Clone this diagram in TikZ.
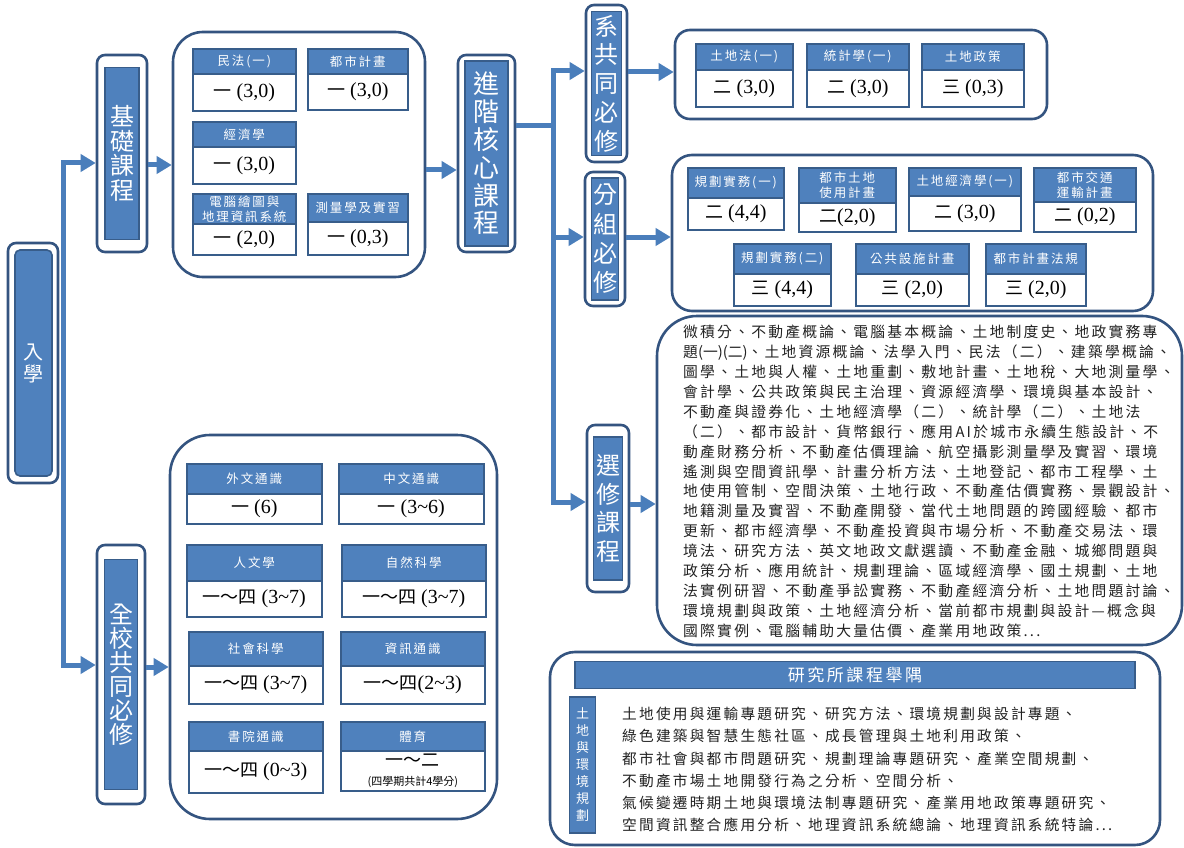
\documentclass[tikz,border=0pt]{standalone}
\usepackage{fontspec}
\setmainfont{Liberation Serif}
\newfontfamily\cjk{Noto Sans CJK TC}
\newfontfamily\cjkls[LetterSpace=15]{Noto Sans CJK TC}
\usetikzlibrary{arrows.meta}
\definecolor{blu}{RGB}{79,129,189}
\definecolor{bdr}{RGB}{56,93,138}
\definecolor{obd}{RGB}{52,84,128}
\definecolor{lnk}{RGB}{74,126,187}
\definecolor{txt}{RGB}{34,34,34}
\newcommand\cjn[1]{{\cjk\fontsize{18}{20}\selectfont #1}}
\newcommand\mycard[8]{%
  \node[hdr, anchor=north west, minimum width={(#3-#2)*1pt}, minimum height={(#5-#4)*1pt}] (#1h) at (#2,#4) {#7};
  \node[bdy, anchor=north west, minimum width={(#3-#2)*1pt}, minimum height={(#6-#5)*1pt}] (#1b) at (#2,#5) {#8};
}
\newcommand\dblbox[9]{%
  \node[outerbox, minimum width=#4pt, minimum height=#5pt] (#1O) at (#2,#3) {};
  \node[innerbar, minimum width=#6pt, minimum height=#7pt, font=#8] (#1I) at (#2,#3) {#9};
}
\begin{document}
\begin{tikzpicture}[x=1pt,y=-1pt,
  outerbox/.style={draw=obd, line width=2.6pt, rounded corners=8pt, fill=white, inner sep=0pt},
  innerbar/.style={draw=bdr, line width=1.6pt, fill=blu, text=white, inner sep=0pt, align=center},
  bigbox/.style={draw=obd, line width=2.6pt, fill=white, inner sep=0pt},
  hdr/.style={draw=bdr, line width=1.6pt, fill=blu, text=white, inner sep=0pt, align=center,
     font=\cjkls\fontsize{12.5}{15}\selectfont},
  bdy/.style={draw=bdr, line width=1.6pt, fill=white, text=black, inner sep=0pt, align=center,
     font=\fontsize{20}{22}\selectfont},
  conn/.style={draw=lnk, line width=5pt},
  arr/.style={conn, -{Triangle[length=15pt,width=17pt]}},
  para/.style={anchor=north west, inner sep=0pt, align=left, text=txt}
]
\fill[white] (0,0) rectangle (1184,848);
\useasboundingbox (0,0) rectangle (1184,848);

% level coordinates
\coordinate (spA) at (63,163);
\coordinate (spB) at (63,665);
\coordinate (L165) at (0,165);
\coordinate (L170) at (0,170);
\coordinate (tk) at (553,126);
\coordinate (L71) at (0,71);
\coordinate (L72) at (0,72);
\coordinate (L237) at (0,237);
\coordinate (L502) at (0,502);
\coordinate (L504) at (0,504);
\coordinate (L667) at (0,667);

% big boxes
\node[bigbox, rounded corners=30pt, minimum width=252pt, minimum height=245pt] (basic) at (299,154.5) {};
\node[bigbox, rounded corners=15pt, minimum width=372pt, minimum height=89pt] (xibox) at (861,74.5) {};
\node[bigbox, rounded corners=20pt, minimum width=481pt, minimum height=156pt] (fenbox) at (912.5,233) {};
\node[bigbox, rounded corners=40pt, minimum width=525pt, minimum height=329pt] (elect) at (919.5,480.5) {};
\node[bigbox, rounded corners=40pt, minimum width=327pt, minimum height=384pt] (genbox) at (333.5,627) {};
\node[bigbox, rounded corners=25pt, minimum width=610pt, minimum height=193pt] (research) at (855,748.5) {};

% double boxes (vertical titles)
\node[outerbox, minimum width=50pt, minimum height=240pt] (ruO) at (33,363) {};
\node[innerbar, rounded corners=5pt, minimum width=37pt, minimum height=226pt,
  font=\cjk\fontsize{20}{22}\selectfont] (ruI) at (33.5,363) {入\\學};
\dblbox{jc}{122}{153.5}{50}{197}{34}{172}{\cjk\fontsize{24}{24.5}\selectfont}{基\\礎\\課\\程}
\dblbox{jj}{486.5}{153.5}{57}{197}{43}{185}{\cjk\fontsize{26}{27.8}\selectfont}{進\\階\\核\\心\\課\\程}
\dblbox{xg}{606.5}{83.5}{41}{157}{30}{144}{\cjk\fontsize{24}{28.8}\selectfont}{系\\共\\同\\必\\修}
\dblbox{fz}{605}{239}{40}{134}{27}{122}{\cjk\fontsize{24}{29.3}\selectfont}{分\\組\\必\\修}
\dblbox{xx}{608}{508.5}{42}{167}{29}{143}{\cjk\fontsize{24}{28.7}\selectfont}{選\\修\\課\\程}
\dblbox{qx}{121}{674.5}{48}{259}{33}{230}{\cjk\fontsize{24}{24}\selectfont}{全\\校\\共\\同\\必\\修}

% basic course cards
\mycard{c1}{192}{295}{48}{73}{110}{民法(一)}{\cjn{一} (3,0)}
\mycard{c2}{307}{407}{48}{73}{109}{都市計畫}{\cjn{一} (3,0)}
\mycard{c3}{192}{295}{121}{146}{183}{經濟學}{\cjn{一} (3,0)}
\mycard{c4}{192}{295}{193}{223}{254}{電腦繪圖與\\地理資訊系統}{\cjn{一} (2,0)}
\mycard{c5}{307}{407}{193}{221}{254}{測量學及實習}{\cjn{一} (0,3)}

% department required
\mycard{d1}{695}{792}{43}{69}{106}{土地法(一)}{\cjn{二} (3,0)}
\mycard{d2}{806}{908}{43}{69}{106}{統計學(一)}{\cjn{二} (3,0)}
\mycard{d3}{921}{1023}{43}{69}{106}{土地政策}{\cjn{三} (0,3)}

% group required
\mycard{e1}{687}{783}{167}{197}{229}{規劃實務(一)}{\cjn{二} (4,4)}
\mycard{e2}{798}{895}{167}{202}{231}{都市土地\\使用計畫}{\cjn{二}(2,0)}
\mycard{e3}{908}{1020}{167}{195}{230}{土地經濟學(一)}{\cjn{二} (3,0)}
\mycard{e4}{1033}{1135}{167}{201}{231}{都市交通\\運輸計畫}{\cjn{二} (0,2)}
\mycard{e5}{733}{830}{243}{273}{305}{規劃實務(二)}{\cjn{三} (4,4)}
\mycard{e6}{855}{968}{243}{273}{305}{公共設施計畫}{\cjn{三} (2,0)}
\mycard{e7}{985}{1085}{243}{273}{305}{都市計畫法規}{\cjn{三} (2,0)}

% general education
\mycard{g1}{186}{321}{463}{493}{523}{外文通識}{\cjn{一} (6)}
\mycard{g2}{338}{483}{463}{493}{523}{中文通識}{\cjn{一} (3\textasciitilde6)}
\mycard{g3}{186}{321}{544}{580}{616}{人文學}{\cjn{一～四} (3\textasciitilde7)}
\mycard{g4}{341}{485}{544}{580}{616}{自然科學}{\cjn{一～四} (3\textasciitilde7)}
\mycard{g5}{188}{322}{631}{665}{703}{社會科學}{\cjn{一～四} (3\textasciitilde7)}
\mycard{g6}{340}{484}{631}{665}{703}{資訊通識}{\cjn{一～四}(2\textasciitilde3)}
\mycard{g7}{188}{322}{721}{750}{792}{書院通識}{\cjn{一～四} (0\textasciitilde3)}
\mycard{g8}{340}{484}{721}{750}{790}{體育}{\cjn{一～二}\\[-3pt]{\cjk\fontsize{11}{13}\selectfont (四學期共計4學分)}}

% elective text
\node[para, font=\cjkls\fontsize{14.8}{19.9}\selectfont] (eltext) at (683,325) {%
微積分、不動產概論、電腦基本概論、土地制度史、地政實務專\\
題{\cjk(一)(二)}、土地資源概論、法學入門、民法（二）、建築學概論、\\
圖學、土地與人權、土地重劃、敷地計畫、土地稅、大地測量學、\\
會計學、公共政策與民主治理、資源經濟學、環境與基本設計、\\
不動產與證券化、土地經濟學（二）、統計學（二）、土地法\\
（二）、都市設計、貨幣銀行、應用AI於城市永續生態設計、不\\
動產財務分析、不動產估價理論、航空攝影測量學及實習、環境\\
遙測與空間資訊學、計畫分析方法、土地登記、都市工程學、土\\
地使用管制、空間決策、土地行政、不動產估價實務、景觀設計、\\
地籍測量及實習、不動產開發、當代土地問題的跨國經驗、都市\\
更新、都市經濟學、不動產投資與市場分析、不動產交易法、環\\
境法、研究方法、英文地政文獻選讀、不動產金融、城鄉問題與\\
政策分析、應用統計、規劃理論、區域經濟學、國土規劃、土地\\
法實例研習、不動產爭訟實務、不動產經濟分析、土地問題討論、\\
環境規劃與政策、土地經濟分析、當前都市規劃與設計—概念與\\
國際實例、電腦輔助大量估價、產業用地政策...};

% research box
\node[draw=bdr, line width=1.4pt, fill=blu, text=white, inner sep=0pt,
  minimum width=560pt, minimum height=27pt, font=\cjkls\fontsize{17}{20}\selectfont] (rhead) at (855,675) {研究所課程舉隅};
\node[draw=bdr, line width=1.2pt, fill=blu, text=white, inner sep=0pt, align=center,
  minimum width=26pt, minimum height=136pt, font=\cjk\fontsize{13}{17}\selectfont] (rside) at (582.5,765) {土\\地\\與\\環\\境\\規\\劃};
\node[para, font=\cjkls\fontsize{14.7}{22.2}\selectfont] (rtext) at (622,707) {%
土地使用與運輸專題研究、研究方法、環境規劃與設計專題、\\
綠色建築與智慧生態社區、成長管理與土地利用政策、\\
都市社會與都市問題研究、規劃理論專題研究、產業空間規劃、\\
不動產市場土地開發行為之分析、空間分析、\\
氣候變遷時期土地與環境法制專題研究、產業用地政策專題研究、\\
空間資訊整合應用分析、地理資訊系統總論、地理資訊系統特論...};

% connectors
\draw[conn, {Triangle[length=15pt,width=17pt]}-{Triangle[length=15pt,width=17pt]}]
  (jcO.west |- spA) -- (spA) -- (spB) -- (qxO.west |- spB);
\draw[arr] (jcO.east |- L165) -- (basic.west |- L165);
\draw[arr] (basic.east |- L170) -- (jjO.west |- L170);
\draw[conn] (jjO.east |- tk) -- (tk);
\draw[arr] (tk) |- (xgO.west |- L71);
\draw[arr] (tk) |- (fzO.west |- L237);
\draw[arr] (tk) |- (xxO.west |- L502);
\draw[arr] (xgO.east |- L72) -- (xibox.west |- L72);
\draw[arr] (fzO.east |- L237) -- (fenbox.west |- L237);
\draw[arr] (xxO.east |- L504) -- (elect.west |- L504);
\draw[arr] (qxO.east |- L667) -- (genbox.west |- L667);
\end{tikzpicture}
\end{document}
